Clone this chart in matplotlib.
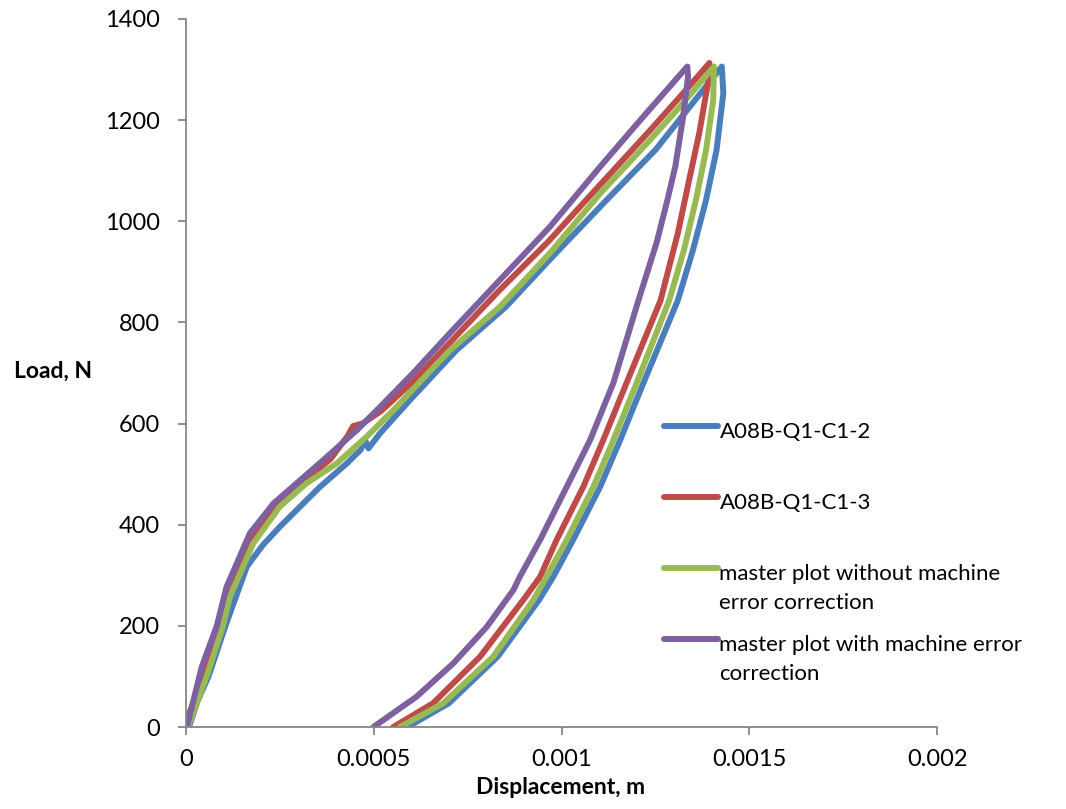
import matplotlib
matplotlib.use("Agg")
import matplotlib.pyplot as plt
from matplotlib.legend_handler import HandlerLine2D

# ---- data (displacement in m, load in N) ----
blue_x = [0.000008, 0.00003, 0.00006, 0.000105, 0.000162, 0.000205, 0.00025, 0.000357, 0.000428, 0.000465,
          0.000477, 0.000486, 0.000517, 0.000597, 0.00072, 0.000852, 0.000985, 0.00112, 0.00125, 0.00134,
          0.001427,
          0.001431, 0.001413, 0.001385, 0.00135, 0.00131, 0.001218, 0.001156, 0.001103, 0.001031, 0.000978,
          0.00094, 0.00083, 0.0007, 0.00059]
blue_y = [0, 50, 100, 200, 317, 360, 396, 475, 521, 548,
          567, 551, 581, 647, 745, 831, 937, 1042, 1141, 1225,
          1306,
          1253, 1141, 1042, 943, 844, 680, 567, 475, 370, 297,
          251, 139, 47, 0]

red_x = [0.0, 0.00001, 0.00005, 0.00009, 0.000115, 0.000175, 0.00024, 0.00031, 0.000385, 0.00043,
         0.000445, 0.00047, 0.00052, 0.0006, 0.00069, 0.00083, 0.000965, 0.0011, 0.00123, 0.00132,
         0.001394,
         0.00139, 0.001367, 0.001338, 0.00131, 0.001264, 0.001173, 0.001111, 0.001058, 0.000987, 0.000943,
         0.000898, 0.000783, 0.000658, 0.000552]
red_y = [0, 30, 100, 200, 270, 375, 440, 485, 530, 575,
         595, 600, 625, 680, 750, 860, 960, 1070, 1175, 1250,
         1313,
         1273, 1175, 1075, 977, 844, 680, 567, 475, 370, 297,
         251, 139, 47, 0]

green_x = [0.000005, 0.000055, 0.0000985, 0.000117, 0.000179, 0.00025, 0.000321, 0.000401, 0.000481, 0.000561,
           0.000645, 0.000703, 0.000836, 0.000969, 0.001103, 0.001236, 0.001324, 0.001406,
           0.001404, 0.001385, 0.001358, 0.001326, 0.001287, 0.0012, 0.001138, 0.001085, 0.001014, 0.00096,
           0.000925, 0.000818, 0.000685, 0.00057]
green_y = [0, 100, 200, 258, 363, 436, 482, 521, 574, 633,
           700, 745, 831, 937, 1055, 1161, 1234, 1306,
           1240, 1141, 1042, 943, 844, 680, 567, 475, 370, 297,
           251, 139, 47, 0]

purple_x = [0.000002, 0.000042, 0.000082, 0.000108, 0.00017, 0.000233, 0.000304, 0.000375, 0.000455, 0.000517,
            0.000605, 0.000703, 0.000836, 0.000969, 0.001103, 0.001218, 0.001335,
            0.001337, 0.001324, 0.001303, 0.001282, 0.001253, 0.001205, 0.001138, 0.001076, 0.001014, 0.000943,
            0.000889, 0.000872, 0.000801, 0.000712, 0.000614, 0.000499]
purple_y = [0, 119, 200, 277, 383, 442, 488, 534, 587, 633,
            700, 779, 884, 989, 1108, 1207, 1306,
            1286, 1207, 1108, 1042, 957, 844, 680, 567, 475, 370,
            297, 271, 198, 126, 60, 0]

labels = ["A08B-Q1-C1-2\n", "A08B-Q1-C1-3\n",
          "master plot without machine\nerror correction",
          "master plot with machine error\ncorrection"]
colors = ["#4A7EBB", "#BE4B48", "#98B954", "#7D60A0"]

x_ticks = [0, 0.0005, 0.001, 0.0015, 0.002]
x_tick_labels = ["0", "0.0005", "0.001", "0.0015", "0.002"]
y_ticks = [0, 200, 400, 600, 800, 1000, 1200, 1400]

plt.rcParams['font.family'] = ['Lato', 'DejaVu Sans']


class RaisedLine(HandlerLine2D):
    def __init__(self, raise_by, **kw):
        super().__init__(**kw)
        self.raise_by = raise_by

    def create_artists(self, legend, orig_handle, xdescent, ydescent, width, height, fontsize, trans):
        arts = super().create_artists(legend, orig_handle, xdescent, ydescent, width, height, fontsize, trans)
        for a in arts:
            a.set_ydata([v + self.raise_by for v in a.get_ydata()])
        return arts


fig = plt.figure(figsize=(10.66, 8.09), dpi=100)
ax = fig.add_axes([186/1066, 1-727/809, (937-186)/1066, (727-19)/809])

series = [(blue_x, blue_y), (red_x, red_y), (green_x, green_y), (purple_x, purple_y)]
handles = []
for (xs, ys), c, lab in zip(series, colors, labels):
    h, = ax.plot(xs, ys, color=c, lw=4.3, solid_capstyle='round', solid_joinstyle='round', label=lab)
    handles.append(h)

ax.set_xlim(0, 0.002)
ax.set_ylim(0, 1400)
ax.set_xticks(x_ticks)
ax.set_xticklabels(x_tick_labels)
ax.set_yticks(y_ticks)
for s in ['top', 'right']:
    ax.spines[s].set_visible(False)
for s in ['left', 'bottom']:
    ax.spines[s].set_color('#868686')
    ax.spines[s].set_linewidth(1.3)
ax.tick_params(axis='both', direction='out', length=6, width=1.3, color='#868686',
               labelsize=17, labelcolor='black')
ax.tick_params(axis='y', pad=13)
ax.tick_params(axis='x', pad=10)

fig.text(14/1066, 1-371/809, "Load, N", fontsize=16.5, fontweight='bold', ha='left', va='center')
fig.text(561/1066, 1-787/809, "Displacement, m", fontsize=16.5, fontweight='bold', ha='center', va='center')

handler_map = {h: RaisedLine(15) for h in handles}
leg = fig.legend(handles=handles, labels=labels, loc='upper left',
                 bbox_to_anchor=(655/1066, 1-413/809), frameon=False, fontsize=16,
                 handlelength=2.45, handletextpad=0.05, labelspacing=1.0, borderaxespad=0,
                 handler_map=handler_map)
for t in leg.get_texts():
    t.set_linespacing(1.55)

fig.savefig("out.png", dpi=100)
